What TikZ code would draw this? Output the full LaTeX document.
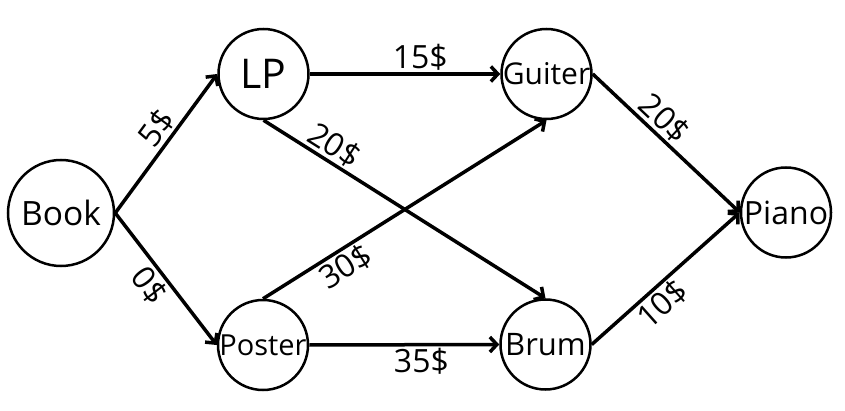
\documentclass[tikz,border=0pt]{standalone}
\usepackage{fontspec}
\setmainfont{Open Sans}
\usetikzlibrary{arrows.meta}
\begin{document}
\begin{tikzpicture}[x=1pt,y=-1pt,
  vert/.style={circle,draw,line width=2.5pt,inner sep=0pt,minimum size=90pt},
  edge/.style={line width=3.5pt,-{Straight Barb[length=7pt,width=15pt]}},
  lab/.style={font=\fontsize{32}{32}\selectfont,sloped,inner sep=2pt}]
\useasboundingbox (0,0) rectangle (845,411);
\node[vert,minimum size=106pt,font=\fontsize{33.5}{33.5}\selectfont] (book) at (61,213) {Book};
\node[vert,font=\fontsize{41}{41}\selectfont] (lp) at (263.5,74) {LP};
\node[vert,font=\fontsize{30}{30}\selectfont] (guiter) at (546.5,74) {Guiter};
\node[vert,font=\fontsize{32}{32}\selectfont] (piano) at (786,212.5) {Piano};
\node[vert,font=\fontsize{29}{29}\selectfont] (poster) at (263,345) {Poster};
\node[vert,font=\fontsize{31}{31}\selectfont] (brum) at (545.5,344.5) {Brum};

\draw[edge] (book.east) -- node[lab,above,pos=0.54] {5\$} (lp.west);
\draw[edge] (book.east) -- node[lab,below,pos=0.47] {0\$} (poster.west);
\draw[edge] (lp.east) -- node[lab,above,pos=0.58] {15\$} (guiter.west);
\draw[edge] (lp.south) -- node[lab,above,pos=0.22] {20\$} (brum.north);
\draw[edge] (poster.north) -- node[lab,below,pos=0.26] {30\$} (guiter.south);
\draw[edge] (poster.east) -- node[lab,below,pos=0.59] {35\$} (brum.west);
\draw[edge] (guiter.east) -- node[lab,above,pos=0.41] {20\$} (piano.west);
\draw[edge] (brum.east) -- node[lab,below,pos=0.40] {10\$} (piano.west);
\end{tikzpicture}
\end{document}
